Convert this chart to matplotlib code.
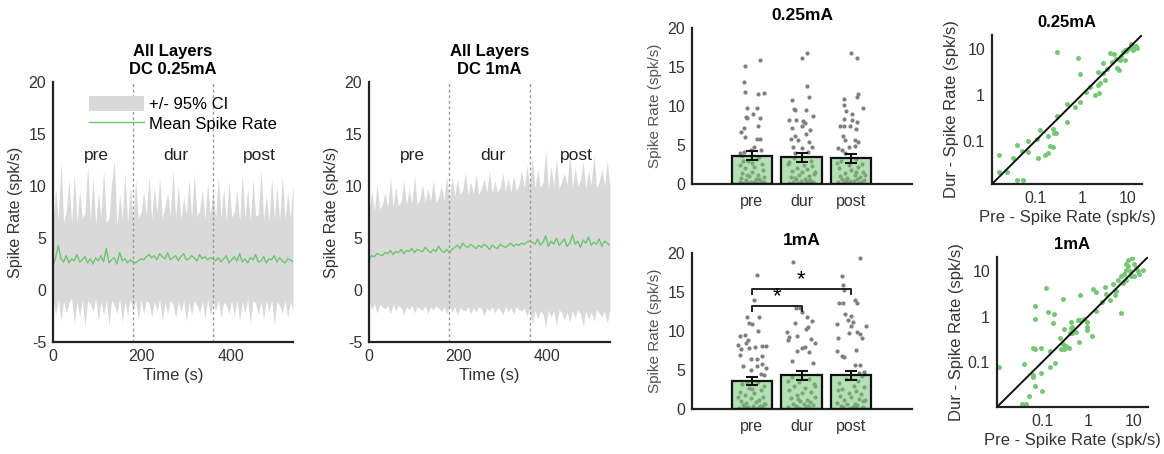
import numpy as np
import matplotlib
matplotlib.use('Agg')
import matplotlib.pyplot as plt
from matplotlib.patches import Patch
from matplotlib.lines import Line2D

plt.rcParams['font.family'] = ['Liberation Sans', 'DejaVu Sans']
plt.rcParams['axes.unicode_minus'] = False

# ---- time series (one sample every 6 s, 0..540 s) ----
time_s = list(range(0, 541, 6))

mean_025 = [2.4, 3.1, 4.3, 3.0, 2.7, 3.3, 2.6, 3.0, 2.8, 3.4, 2.7, 2.9, 3.2, 2.6, 3.0, 2.5, 3.1, 2.8, 3.3, 2.7, 4.0, 2.6, 2.9, 3.1, 2.5, 3.6, 2.8, 3.0, 2.6, 2.9, 2.7,
            2.6, 2.8, 3.0, 2.9, 3.2, 3.4, 3.1, 3.3, 2.9, 3.5, 3.2, 3.0, 3.6, 2.9, 3.1, 3.3, 2.8, 3.2, 3.5, 2.9, 3.0, 3.3, 3.1, 2.8, 3.4, 3.0, 3.2, 2.9, 3.1, 3.0,
            2.8, 3.1, 2.7, 3.0, 3.3, 2.6, 2.9, 3.2, 2.8, 3.5, 2.7, 3.0, 2.6, 3.1, 2.9, 3.4, 2.7, 2.8, 3.2, 2.6, 3.0, 2.9, 3.3, 2.7, 3.1, 2.8, 2.6, 3.0, 2.9, 2.7]
upper_025 = [6.2, 9.8, 6.8, 12.3, 6.5, 7.6, 10.6, 6.4, 11.2, 6.4, 9.6, 6.9, 7.4, 12.0, 6.6, 10.9, 6.3, 9.4, 7.1, 11.6, 6.5, 6.9, 10.4, 12.4, 6.2, 9.2, 6.9, 11.3, 6.4, 10.1, 6.5,
             10.6, 6.9, 7.4, 9.5, 7.2, 11.0, 6.8, 9.9, 7.4, 10.8, 6.9, 8.0, 9.4, 7.1, 11.5, 7.0, 10.1, 6.8, 9.0, 7.3, 10.6, 6.9, 11.2, 7.1, 7.6, 9.7, 6.8, 10.3, 7.2, 9.5,
             6.9, 10.9, 7.0, 9.8, 6.7, 10.5, 7.0, 7.5, 9.6, 6.6, 11.2, 6.9, 9.8, 6.7, 10.6, 7.1, 7.3, 11.5, 6.8, 9.1, 6.6, 10.8, 6.9, 9.9, 6.7, 11.0, 6.8, 9.3, 7.0, 10.2]
lower_025 = [-0.8, -2.4, -0.9, -3.0, -1.0, -2.2, -1.2, -0.8, -3.3, -1.1, -2.6, -0.9, -3.5, -1.0, -1.3, -2.1, -0.8, -2.9, -1.1, -2.4, -0.9, -3.4, -1.0, -1.4, -2.3, -0.8, -3.1, -1.1, -2.5, -0.9, -2.0,
             -1.0, -2.8, -0.9, -2.2, -1.0, -1.3, -2.6, -1.1, -2.0, -0.9, -2.9, -1.2, -2.3, -1.0, -1.4, -2.7, -1.1, -2.1, -1.0, -3.0, -1.2, -2.4, -1.0, -1.5, -2.2, -1.1, -2.8, -0.9, -2.5, -1.1,
             -2.0, -1.0, -2.6, -1.2, -1.4, -2.3, -1.0, -2.5, -1.0, -2.9, -1.1, -2.2, -0.9, -3.2, -1.0, -1.3, -2.4, -1.1, -2.8, -1.0, -2.1, -0.9, -3.4, -1.1, -1.5, -2.3, -1.0, -2.7, -1.1, -2.0]

mean_1 = [2.9, 3.3, 3.2, 3.5, 3.4, 3.3, 3.6, 3.5, 3.8, 3.4, 3.7, 3.6, 3.9, 3.5, 3.8, 3.7, 4.0, 3.6, 3.9, 3.8, 3.7, 4.1, 3.8, 3.6, 3.9, 3.7, 4.2, 3.8, 3.6, 3.9, 3.6,
          3.9, 4.1, 4.3, 4.0, 4.5, 4.2, 4.1, 4.4, 4.2, 4.0, 4.3, 4.1, 4.4, 4.2, 3.9, 4.3, 4.1, 4.0, 4.4, 4.2, 4.1, 4.3, 4.5, 4.2, 4.4, 4.3, 4.5, 4.4, 4.6, 4.7,
          4.6, 4.4, 4.9, 4.3, 4.6, 5.2, 4.2, 4.7, 4.4, 5.0, 4.3, 4.6, 4.9, 4.2, 4.5, 5.3, 4.4, 4.7, 4.1, 4.8, 4.5, 5.1, 4.3, 4.6, 4.4, 4.9, 4.2, 4.7, 4.5, 4.3]
upper_1 = [7.4, 9.6, 7.6, 10.2, 7.8, 8.2, 9.4, 7.9, 10.8, 8.0, 9.9, 8.1, 8.5, 10.5, 8.2, 9.7, 8.3, 11.0, 8.2, 8.8, 10.1, 8.4, 9.8, 8.5, 10.6, 8.4, 8.9, 10.0, 8.6, 10.9, 8.5,
           11.0, 9.0, 10.6, 9.2, 9.6, 11.3, 9.1, 10.4, 9.3, 11.1, 9.2, 9.8, 10.7, 9.4, 11.4, 9.3, 10.5, 9.4, 9.9, 11.2, 9.5, 10.8, 9.4, 11.0, 9.6, 10.1, 11.5, 9.8, 12.0, 10.0,
           12.8, 9.8, 11.6, 9.9, 10.4, 13.5, 9.7, 11.9, 10.0, 12.6, 9.8, 10.5, 11.2, 10.1, 13.2, 9.9, 11.8, 10.0, 10.6, 12.3, 9.8, 11.5, 10.1, 13.0, 9.9, 10.4, 11.7, 10.0, 12.4, 9.9]
lower_1 = [-1.0, -1.9, -1.3, -2.2, -1.4, -1.6, -1.8, -1.5, -2.3, -1.4, -2.0, -1.5, -1.7, -2.4, -1.6, -1.9, -1.5, -2.2, -1.6, -1.8, -2.0, -1.5, -2.3, -1.6, -1.9, -1.5, -1.7, -2.1, -1.6, -2.3, -1.5,
           -2.1, -1.6, -2.4, -1.7, -1.9, -2.0, -1.6, -2.3, -1.7, -2.1, -1.6, -1.8, -2.5, -1.7, -2.0, -1.6, -2.2, -1.7, -1.9, -2.4, -1.6, -2.1, -1.7, -2.3, -1.6, -1.9, -2.0, -1.7, -2.5, -1.8,
           -3.3, -1.9, -2.8, -2.0, -2.3, -3.6, -1.9, -2.6, -2.0, -3.4, -1.9, -2.2, -2.9, -2.1, -3.1, -2.0, -2.7, -1.9, -2.3, -3.5, -2.0, -2.8, -2.1, -3.0, -1.9, -2.2, -2.6, -2.0, -3.2, -1.9]

epochs = ['pre', 'dur', 'post']
epoch_edges = [180, 360]

# ---- bar charts: mean +/- sem and single units ----
bar_025 = [3.6, 3.4, 3.3]
sem_025 = [0.57, 0.6, 0.6]
bar_1 = [3.6, 4.3, 4.3]
sem_1 = [0.5, 0.6, 0.6]

pts_025_pre = [15.1, 15.9, 13.1, 11.8, 11.5, 11.7, 9.8, 9.7, 8.6, 9.0, 8.4, 8.4, 7.2, 6.7, 7.4, 5.8, 5.8, 6.0, 4.8, 4.4, 4.0, 4.1, 4.4,
               3.6, 3.2, 2.9, 2.6, 2.4, 2.2, 2.0, 1.8, 1.6, 1.4, 1.2, 1.0, 0.9, 0.8, 0.6, 0.5, 0.4, 0.3, 0.2, 0.15, 0.1, 0.08, 0.05, 0.3, 0.7, 1.1, 2.7, 3.0, 3.4, 0.25]
jit_025_pre = [-0.15, 0.16, -0.17, -0.15, 0.13, 0.24, -0.10, 0.11, -0.13, 0.03, 0.16, -0.10, -0.17, -0.23, 0.13, 0.10, 0.16, -0.14, 0.05, -0.02, -0.25, -0.17, 0.18,
               -0.2, 0.1, -0.08, 0.2, -0.25, 0.05, -0.15, 0.22, 0.0, -0.2, 0.12, -0.05, 0.25, -0.22, 0.08, -0.12, 0.18, -0.02, 0.24, -0.18, 0.1, -0.08, 0.2, -0.25, 0.15, -0.1, 0.0, -0.18, 0.14, 0.04]
pts_025_dur = [16.8, 16.2, 12.6, 10.8, 11.2, 9.6, 9.5, 9.5, 8.7, 8.2, 8.2, 8.1, 7.8, 7.5, 7.2, 6.9, 6.2, 6.4, 5.8, 5.7, 5.4, 4.8, 4.6, 4.8, 4.0, 4.1,
               3.3, 3.0, 2.8, 2.5, 2.3, 2.1, 1.9, 1.7, 1.5, 1.3, 1.1, 1.0, 0.9, 0.7, 0.6, 0.5, 0.4, 0.3, 0.25, 0.2, 0.15, 0.1, 0.08, 0.05, 1.6, 2.6, 0.35, 0.8]
jit_025_dur = [0.11, 0.0, 0.12, -0.19, 0.15, -0.16, -0.13, 0.10, 0.23, -0.26, -0.11, 0.03, 0.08, 0.01, -0.19, 0.18, -0.14, 0.09, -0.22, -0.08, 0.15, -0.17, 0.01, 0.21, -0.13, 0.13,
               -0.15, 0.2, -0.25, 0.05, 0.22, -0.1, 0.12, -0.2, 0.0, 0.25, -0.05, 0.15, -0.22, 0.08, -0.12, 0.18, -0.02, 0.24, -0.18, 0.1, -0.08, 0.2, -0.25, 0.03, 0.28, -0.28, 0.13, -0.14]
pts_025_post = [16.8, 16.1, 11.5, 11.2, 10.9, 10.1, 9.7, 9.4, 9.0, 8.3, 8.2, 7.9, 7.5, 7.5, 7.4, 7.0, 6.2, 5.7, 5.6, 5.4, 4.6, 4.7, 4.9, 4.3, 4.0,
                3.2, 2.9, 2.6, 2.4, 2.2, 2.0, 1.8, 1.6, 1.4, 1.2, 1.0, 0.9, 0.8, 0.7, 0.6, 0.5, 0.4, 0.35, 0.3, 0.25, 0.2, 0.15, 0.1, 0.05, 1.1, 2.7, 0.45, 1.5]
jit_025_post = [0.0, 0.12, 0.15, 0.12, -0.15, -0.14, 0.24, -0.11, 0.01, -0.15, 0.01, 0.12, -0.22, -0.15, -0.03, 0.11, -0.17, -0.12, 0.07, 0.15, -0.26, -0.04, 0.07, -0.19, -0.12,
                0.1, -0.2, 0.22, -0.05, 0.15, -0.25, 0.0, 0.25, -0.12, 0.08, -0.22, 0.18, -0.08, 0.12, -0.18, 0.26, -0.02, 0.06, -0.27, 0.2, -0.14, 0.16, -0.06, 0.02, 0.29, -0.28, -0.1, 0.11]

pts_1_pre = [17.2, 14.0, 11.8, 11.8, 11.0, 10.9, 10.0, 9.4, 9.5, 8.9, 8.2, 8.5, 7.8, 8.0, 8.1, 8.1, 7.7, 6.9, 6.4, 6.4, 6.8, 5.5, 5.8, 5.5, 5.2, 5.0, 4.5, 4.3,
             3.5, 3.2, 2.9, 2.7, 2.4, 2.2, 2.0, 1.8, 1.6, 1.4, 1.2, 1.0, 0.9, 0.8, 0.6, 0.5, 0.4, 0.3, 0.2, 0.15, 0.1, 0.05, 0.25, 0.7, 1.5, 2.6, 3.3, 0.35]
jit_1_pre = [0.11, 0.05, -0.09, 0.15, -0.06, 0.01, 0.12, -0.24, -0.15, -0.07, -0.28, -0.13, -0.06, 0.07, 0.20, 0.29, -0.22, -0.25, -0.01, 0.10, 0.21, 0.10, 0.20, -0.18, 0.28, -0.02, 0.18, 0.25,
             0.12, -0.2, 0.25, -0.05, 0.18, -0.25, 0.05, -0.15, 0.22, -0.02, 0.15, -0.22, 0.08, -0.12, 0.27, -0.18, 0.02, 0.2, -0.08, 0.12, -0.26, 0.06, -0.14, 0.24, -0.28, 0.0, -0.1, 0.16]
pts_1_dur = [18.9, 13.0, 13.0, 12.4, 11.8, 11.3, 11.0, 10.5, 10.2, 9.9, 9.3, 9.2, 8.8, 9.0, 8.5, 8.0, 7.8, 7.5, 7.3, 5.9, 6.2,
             4.1, 3.8, 3.5, 3.2, 3.0, 2.7, 2.5, 2.2, 2.0, 1.8, 1.6, 1.4, 1.2, 1.0, 0.9, 0.7, 0.6, 0.5, 0.4, 0.3, 0.2, 0.15, 0.1, 0.05, 2.9, 1.3, 0.35, 3.6]
jit_1_dur = [-0.17, -0.11, -0.03, 0.01, 0.11, 0.21, -0.14, 0.14, 0.09, -0.29, -0.09, -0.26, -0.28, 0.20, 0.28, 0.07, 0.0, -0.09, 0.15, 0.24, -0.19,
             -0.2, 0.15, -0.05, 0.25, -0.15, 0.08, -0.25, 0.2, 0.02, -0.1, 0.27, -0.22, 0.12, -0.03, 0.18, -0.18, 0.06, 0.23, -0.12, 0.1, -0.27, 0.16, -0.06, 0.0, 0.28, -0.08, 0.14, -0.28]
pts_1_post = [19.4, 17.0, 15.9, 15.2, 14.0, 13.6, 13.6, 13.6, 12.2, 11.9, 11.4, 11.2, 10.7, 10.9, 10.6, 9.9, 9.8, 9.6, 9.1, 9.1, 7.6, 7.4, 6.8, 6.7, 5.7, 5.6, 4.8, 4.6,
              4.2, 3.9, 3.6, 3.3, 3.0, 2.8, 2.6, 2.3, 2.1, 1.9, 1.7, 1.5, 1.3, 1.1, 1.0, 0.8, 0.7, 0.6, 0.5, 0.4, 0.3, 0.25, 0.2, 0.15, 0.1, 0.05, 2.4, 1.2]
jit_1_post = [0.19, -0.18, -0.17, -0.15, 0.07, 0.13, -0.24, -0.16, -0.13, -0.01, -0.07, 0.03, 0.30, -0.28, 0.0, 0.13, -0.04, 0.19, 0.22, -0.26, 0.09, -0.28, -0.19, -0.15, 0.19, 0.07, 0.27, 0.16,
              0.22, -0.1, 0.15, -0.25, 0.05, 0.27, -0.18, 0.1, -0.05, 0.2, -0.22, 0.0, 0.17, -0.14, 0.25, -0.28, 0.07, -0.08, 0.13, -0.2, 0.03, 0.24, -0.16, 0.09, -0.03, 0.19, -0.27, 0.28]

# ---- pre vs dur, per unit ----
pre_025 = [0.29, 0.83, 0.9, 0.49, 0.7, 0.92, 0.49, 0.29, 0.125, 0.24, 0.25, 0.28, 0.19, 0.07, 0.106, 0.04, 0.068, 0.052, 0.115, 0.16,
           0.19, 0.21, 0.24, 0.032, 0.0165, 0.016, 0.024, 0.04, 0.055, 1.26, 1.9, 2.4, 2.2, 2.5, 3.2, 2.2, 2.9, 2.9, 4.5, 4.0,
           4.9, 5.9, 6.3, 5.6, 7.1, 8.4, 7.7, 9.1, 10.2, 11.7, 13.1, 15.0, 15.8, 11.3, 12.7, 8.4, 6.6, 1.5, 3.5]
dur_025 = [8.5, 6.3, 2.8, 0.64, 0.54, 0.69, 0.26, 0.34, 0.17, 0.18, 0.15, 0.15, 0.126, 0.097, 0.107, 0.083, 0.057, 0.059, 0.043, 0.05,
           0.055, 0.079, 0.073, 0.043, 0.05, 0.021, 0.021, 0.014, 0.014, 1.14, 0.97, 1.09, 1.65, 1.82, 2.05, 3.1, 3.0, 5.0, 5.1, 8.2,
           7.8, 3.8, 3.4, 6.1, 7.1, 5.8, 8.5, 9.2, 10.0, 10.7, 11.4, 11.8, 10.3, 12.8, 9.6, 9.6, 5.6, 1.5, 3.6]
pre_1 = [0.0118, 0.041, 0.036, 0.046, 0.052, 0.07, 0.10, 0.063, 0.063, 0.093, 0.15, 0.195, 0.063, 0.069, 0.096, 0.148, 0.069, 0.069, 0.12, 0.133,
         0.18, 0.17, 0.29, 0.67, 0.43, 0.45, 0.42, 0.30, 0.62, 0.66, 0.97, 0.96, 0.97, 0.65, 1.2, 0.25, 0.28, 0.31, 0.34, 0.38,
         0.26, 0.3, 0.45, 0.41, 1.49, 1.26, 1.49, 2.3, 2.4, 2.95, 2.0, 3.8, 4.0, 3.4, 5.1, 4.5, 5.3, 5.9, 6.8, 7.4,
         9.1, 9.8, 11.1, 12.1, 16.0, 8.7, 10.2, 7.4, 8.0, 6.6, 13.1, 5.8, 6.8, 0.8, 0.55]
dur_1 = [0.077, 0.090, 0.012, 0.012, 0.018, 0.030, 0.024, 0.048, 0.052, 0.059, 0.077, 0.095, 0.20, 0.19, 0.20, 0.18, 0.89, 1.66, 4.1, 1.27,
         1.15, 0.71, 2.45, 3.0, 0.74, 0.6, 0.55, 0.53, 0.82, 0.82, 0.74, 0.6, 0.51, 0.28, 0.38, 0.34, 0.25, 0.21, 0.23, 0.21,
         0.19, 0.19, 0.43, 0.43, 1.29, 4.0, 3.4, 4.4, 3.1, 2.25, 2.07, 3.0, 3.6, 5.1, 1.19, 6.2, 7.6, 8.7, 10.6, 12.6,
         19.0, 14.4, 11.5, 9.8, 10.6, 7.6, 7.8, 17.6, 9.8, 6.4, 8.3, 5.4, 14.4, 0.9, 0.45]

band_col = '#d9d9d9'
line_col = '#6cc76c'
txt_col = '#333333'

fig = plt.figure(figsize=(11.64, 4.54), dpi=100)


def style_axes(ax, size):
    for s in ['top', 'right']:
        ax.spines[s].set_visible(False)
    for s in ['left', 'bottom']:
        ax.spines[s].set_linewidth(1.6)
        ax.spines[s].set_color('#222222')
    ax.tick_params(length=0, labelsize=size, colors=txt_col, pad=5)


def time_panel(rect, mean, upper, lower, title, legend=False):
    ax = fig.add_axes(rect)
    ax.fill_between(time_s, lower, upper, color=band_col, lw=0)
    ax.plot(time_s, mean, color=line_col, lw=1)
    for e in epoch_edges:
        ax.axvline(e, color='#999999', ls=(0, (2, 2)), lw=1)
    for x, lab in zip([97, 277, 465], epochs):
        ax.text(x, 12.9, lab, ha='center', va='center', fontsize=12.5, color='#222222')
    ax.set_xlim(0, 540)
    ax.set_ylim(-5, 20)
    ax.set_xticks([0, 200, 400])
    ax.set_yticks([-5, 0, 5, 10, 15, 20])
    ax.set_xlabel('Time (s)', fontsize=12, color=txt_col, labelpad=3)
    ax.set_ylabel('Spike Rate (spk/s)', fontsize=11.5, color=txt_col)
    ax.set_title(title, fontsize=12, fontweight='bold', pad=6, linespacing=1.25)
    style_axes(ax, 11.5)
    if legend:
        handles = [Patch(facecolor=band_col, edgecolor='none', label='+/- 95% CI'),
                   Line2D([], [], color=line_col, lw=1, label='Mean Spike Rate')]
        ax.legend(handles=handles, loc='upper left', bbox_to_anchor=(0.1, 0.99), frameon=False,
                  fontsize=12, handlelength=3.3, handleheight=1.0, handletextpad=0.3,
                  labelspacing=0.2, borderpad=0.2)
    return ax


time_panel([0.0455, 0.2467, 0.2062, 0.5727], mean_025, upper_025, lower_025, 'All Layers\nDC 0.25mA', legend=True)
time_panel([0.3170, 0.2467, 0.2070, 0.5727], mean_1, upper_1, lower_1, 'All Layers\nDC 1mA')


def bar_panel(rect, means, sems, pts, jits, title, stars=False):
    ax = fig.add_axes(rect)
    cats = [1, 2, 3]
    for c, p, j in zip(cats, pts, jits):
        ax.scatter(np.array(j) + c, p, s=9, color='#7f7f7f', lw=0, zorder=1)
    ax.bar(cats, means, width=0.82, color='#78c878', alpha=0.55, zorder=2)
    ax.bar(cats, means, width=0.82, facecolor='none', edgecolor='#111111', lw=1.6, zorder=3)
    ax.errorbar(cats, means, yerr=sems, fmt='none', ecolor='#111111', elinewidth=1.5, capsize=4, capthick=1.5, zorder=4)
    if stars:
        # pre vs post
        ax.plot([1, 1, 3, 3], [14.7, 15.4, 15.4, 14.7], color='#222222', lw=1.4, zorder=4)
        ax.text(2, 15.2, '*', ha='center', va='bottom', fontsize=16, zorder=4)
        # pre vs dur
        ax.plot([1, 1, 2, 2], [12.6, 13.2, 13.2, 12.6], color='#222222', lw=1.4, zorder=4)
        ax.text(1.5, 13.0, '*', ha='center', va='bottom', fontsize=16, zorder=4)
    ax.set_xlim(-0.21, 4.23)
    ax.set_ylim(0, 20)
    ax.set_xticks(cats)
    ax.set_xticklabels(epochs)
    ax.set_yticks([0, 5, 10, 15, 20])
    ax.set_ylabel('Spike Rate (spk/s)', fontsize=11, color='#555555')
    ax.set_title(title, fontsize=12.5, fontweight='bold', pad=6)
    style_axes(ax, 11.5)
    ax.tick_params(axis='x', pad=7)
    return ax


bar_panel([0.5945, 0.5947, 0.189, 0.3436], bar_025, sem_025,
          [pts_025_pre, pts_025_dur, pts_025_post], [jit_025_pre, jit_025_dur, jit_025_post], '0.25mA')
bar_panel([0.5945, 0.0991, 0.189, 0.3436], bar_1, sem_1,
          [pts_1_pre, pts_1_dur, pts_1_post], [jit_1_pre, jit_1_dur, jit_1_post], '1mA', stars=True)


def log_panel(rect, x, y, lims, title):
    ax = fig.add_axes(rect)
    ax.scatter(x, y, s=13, color='#77c777', lw=0, zorder=2)
    ax.set_xscale('log')
    ax.set_yscale('log')
    ax.plot([lims[0], lims[1]], [lims[0], lims[1]], color='#111111', lw=1.4, zorder=3)
    ax.set_xlim(lims)
    ax.set_ylim(lims)
    ticks = [0.1, 1, 10]
    ax.set_xticks(ticks)
    ax.set_yticks(ticks)
    ax.set_xticklabels(['0.1', '1', '10'])
    ax.set_yticklabels(['0.1', '1', '10'])
    ax.minorticks_off()
    ax.set_xlabel('Pre - Spike Rate (spk/s)', fontsize=12, color=txt_col, labelpad=3)
    ax.set_ylabel('Dur - Spike Rate (spk/s)', fontsize=12, color=txt_col, labelpad=3)
    ax.set_title(title, fontsize=12, fontweight='bold', pad=6)
    style_axes(ax, 11.5)
    return ax


log_panel([0.8522, 0.5947, 0.1289, 0.3282], pre_025, dur_025, (0.0115, 20), '0.25mA')
log_panel([0.8565, 0.1035, 0.1297, 0.3304], pre_1, dur_1, (0.0105, 20), '1mA')

fig.savefig('out.png', dpi=100)
